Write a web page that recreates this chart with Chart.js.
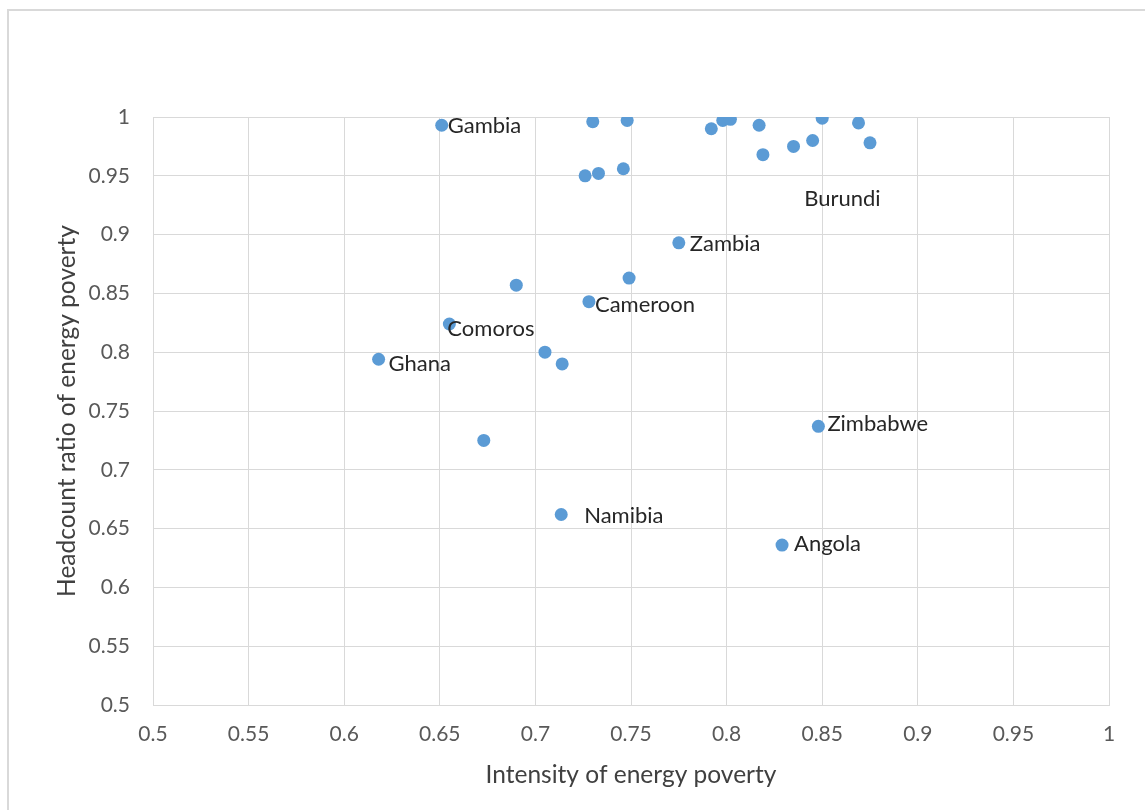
<!DOCTYPE html>
<html>
<head>
<meta charset="utf-8">
<script src="https://cdn.jsdelivr.net/npm/chart.js@4.4.1/dist/chart.umd.min.js"></script>
<style>
  html, body { margin: 0; padding: 0; background: #ffffff; }
  #wrap { position: relative; width: 1145px; height: 810px; }
  canvas { display: block; }
</style>
</head>
<body>
<div id="wrap"><canvas id="chart" width="1145" height="810"></canvas></div>
<script>
// Intensity (x) and headcount ratio (y) of energy poverty by country
const intensity = [
  0.651, 0.730, 0.748, 0.726, 0.733, 0.746, 0.775,
  0.792, 0.798, 0.802, 0.817, 0.819, 0.835, 0.845, 0.850, 0.869, 0.875,
  0.690, 0.749, 0.728, 0.655, 0.618, 0.705, 0.714, 0.673,
  0.848, 0.7135, 0.829
];
const headcount = [
  0.993, 0.996, 0.997, 0.950, 0.952, 0.956, 0.893,
  0.990, 0.997, 0.998, 0.993, 0.968, 0.975, 0.980, 0.999, 0.995, 0.978,
  0.857, 0.863, 0.843, 0.824, 0.794, 0.800, 0.790, 0.725,
  0.737, 0.662, 0.636
];
const countryLabels = [
  'Gambia', '', '', '', '', '', 'Zambia',
  '', '', '', '', '', '', '', 'Burundi', '', '',
  '', '', 'Cameroon', 'Comoros', 'Ghana', '', '', '',
  'Zimbabwe', 'Namibia', 'Angola'
];
const xTickLabels = ['0.5','0.55','0.6','0.65','0.7','0.75','0.8','0.85','0.9','0.95','1'];
const yTickLabels = ['0.5','0.55','0.6','0.65','0.7','0.75','0.8','0.85','0.9','0.95','1'];

// Pixel nudges for the country labels relative to their marker
const labelOffsets = {
  'Gambia':   [6, 1],
  'Zambia':   [11, 1],
  'Burundi':  [-18, 81],
  'Cameroon': [6, 3],
  'Comoros':  [-2, 5],
  'Ghana':    [10, 5],
  'Zimbabwe': [9, -2],
  'Namibia':  [23, 1],
  'Angola':   [12, -1]
};

const FONT = 'Lato, "Open Sans", sans-serif';
const GRID = '#d9d9d9';

const points = intensity.map((x, i) => ({ x: x, y: headcount[i] }));

const frame = {
  id: 'frame',
  beforeDraw(chart) {
    const ctx = chart.ctx;
    ctx.save();
    ctx.fillStyle = '#ffffff';
    ctx.fillRect(0, 0, chart.width, chart.height);
    ctx.strokeStyle = '#d9d9d9';
    ctx.lineWidth = 2;
    ctx.beginPath();
    ctx.moveTo(8, chart.height);
    ctx.lineTo(8, 10);
    ctx.lineTo(chart.width, 10);
    ctx.stroke();
    ctx.restore();
  }
};

const pointLabels = {
  id: 'pointLabels',
  afterDatasetsDraw(chart) {
    const ctx = chart.ctx;
    const meta = chart.getDatasetMeta(0);
    ctx.save();
    ctx.font = '22px ' + FONT;
    ctx.fillStyle = '#262626';
    ctx.textAlign = 'left';
    ctx.textBaseline = 'middle';
    meta.data.forEach((el, i) => {
      const name = countryLabels[i];
      if (!name) return;
      const off = labelOffsets[name] || [8, 0];
      ctx.fillText(name, el.x + off[0], el.y + off[1]);
    });
    ctx.restore();
  }
};

new Chart(document.getElementById('chart'), {
  type: 'scatter',
  data: {
    datasets: [{
      data: points,
      backgroundColor: '#5b9bd5',
      borderColor: '#5b9bd5',
      borderWidth: 0,
      pointRadius: 6.5,
      pointHoverRadius: 6.5
    }]
  },
  options: {
    responsive: false,
    animation: false,
    events: [],
    layout: { padding: { top: 117, right: 36, bottom: 0, left: 0 } },
    plugins: {
      legend: { display: false },
      tooltip: { enabled: false }
    },
    scales: {
      x: {
        type: 'linear',
        min: 0.5,
        max: 1,
        afterFit(scale) { scale.height = 105; },
        ticks: {
          stepSize: 0.05,
          padding: 17,
          color: '#595959',
          font: { family: FONT, size: 21 },
          callback: (v, i) => xTickLabels[i]
        },
        grid: { color: GRID, lineWidth: 1, drawTicks: false },
        border: { color: GRID, width: 1 },
        title: {
          display: true,
          text: 'Intensity of energy poverty',
          color: '#404040',
          font: { family: FONT, size: 24.5 },
          padding: { top: 0, bottom: 20 }
        }
      },
      y: {
        type: 'linear',
        min: 0.5,
        max: 1,
        afterFit(scale) { scale.width = 153; },
        ticks: {
          stepSize: 0.05,
          padding: 23,
          color: '#595959',
          font: { family: FONT, size: 21 },
          callback: (v, i) => yTickLabels[i]
        },
        grid: { color: GRID, lineWidth: 1, drawTicks: false },
        border: { color: GRID, width: 1 },
        title: {
          display: true,
          text: 'Headcount ratio of energy poverty',
          color: '#404040',
          font: { family: FONT, size: 24.5 },
          padding: { top: 52, bottom: 0 }
        }
      }
    }
  },
  plugins: [frame, pointLabels]
});
</script>
</body>
</html>
